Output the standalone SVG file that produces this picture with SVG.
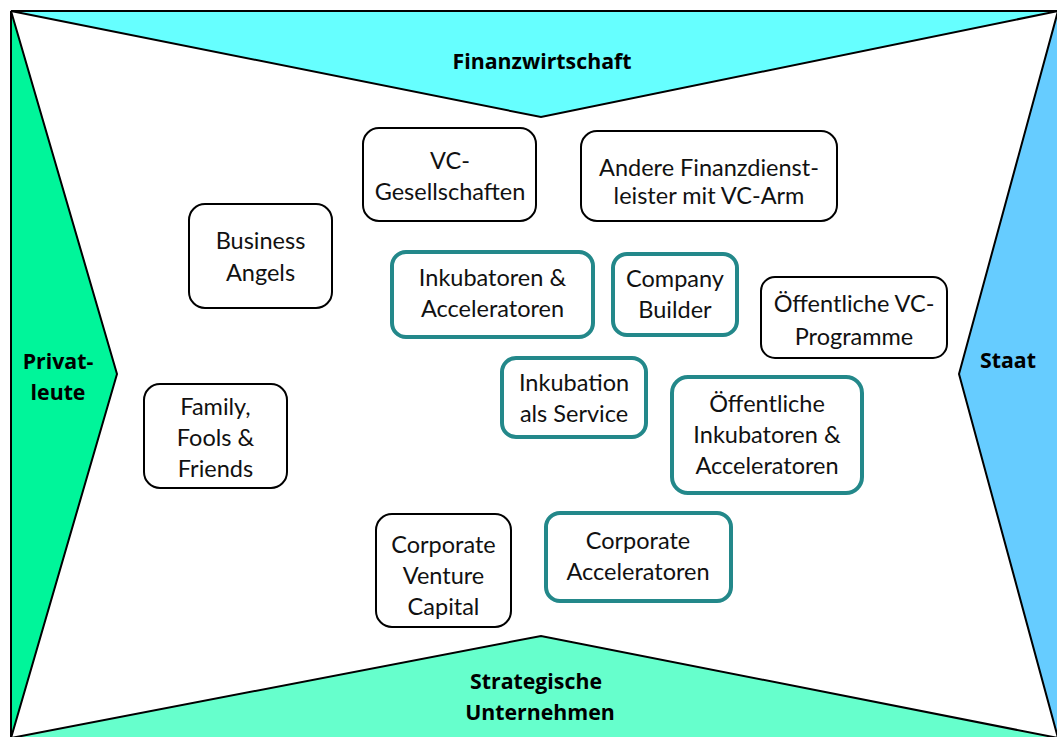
<svg xmlns="http://www.w3.org/2000/svg" width="1057" height="737" viewBox="0 0 1057 737">
<style>
.bg{fill:#ffffff}
.band{stroke:#000;stroke-width:2;stroke-linejoin:miter}
.box{fill:#fff;stroke:#000;stroke-width:2}
.tbox{fill:#fff;stroke:#23888a;stroke-width:4}
.t{font-family:Lato,"Open Sans",sans-serif;font-size:23.5px;fill:#111;text-anchor:middle}
.b{font-family:"Open Sans","Liberation Sans",sans-serif;font-size:21.3px;font-weight:bold;fill:#000;text-anchor:middle}
</style>
<rect class="bg" x="0" y="0" width="1057" height="737"/>
<g id="bands">
<g id="finanzwirtschaft">
<polygon class="band" fill="#66ffff" points="11,11 1058,11 541,117"/>
<text class="b" x="542" y="69">Finanzwirtschaft</text>
</g>
<g id="privatleute">
<polygon class="band" fill="#00f59a" points="11,11 117,374 11,738"/>
<text class="b" x="58" y="369">Privat-</text>
<text class="b" x="58" y="400">leute</text>
</g>
<g id="staat">
<polygon class="band" fill="#66ccff" points="1058,11 959,374 1058,738"/>
<text class="b" x="1008" y="368">Staat</text>
</g>
<g id="strategische">
<polygon class="band" fill="#66ffcc" points="11,738 541,636 1058,738"/>
<text class="b" x="536" y="689">Strategische</text>
<text class="b" x="540" y="720">Unternehmen</text>
</g>
</g>
<g id="connectors"></g>
<g id="vc-gesellschaften">
<rect class="box" x="363" y="128" width="173" height="93" rx="16"/>
<text class="t" x="450" y="169">VC-</text>
<text class="t" x="450" y="200">Gesellschaften</text>
</g>
<g id="andere-finanzdienstleister">
<rect class="box" x="581" y="131" width="256" height="90" rx="16"/>
<text class="t" x="709" y="176">Andere Finanzdienst-</text>
<text class="t" x="709" y="204">leister mit VC-Arm</text>
</g>
<g id="business-angels">
<rect class="box" x="189" y="204" width="143" height="104" rx="16"/>
<text class="t" x="260.5" y="249">Business</text>
<text class="t" x="260.5" y="281">Angels</text>
</g>
<g id="inkubatoren-acceleratoren">
<rect class="tbox" x="392" y="252" width="201" height="85" rx="14"/>
<text class="t" x="492.5" y="286">Inkubatoren &amp;</text>
<text class="t" x="492.5" y="317">Acceleratoren</text>
</g>
<g id="company-builder">
<rect class="tbox" x="613" y="254" width="124" height="81" rx="14"/>
<text class="t" x="675" y="287">Company</text>
<text class="t" x="675" y="318">Builder</text>
</g>
<g id="oeffentliche-vc-programme">
<rect class="box" x="761" y="277" width="186" height="81" rx="14"/>
<text class="t" x="854" y="312">Öffentliche VC-</text>
<text class="t" x="854" y="345">Programme</text>
</g>
<g id="inkubation-als-service">
<rect class="tbox" x="502" y="358" width="144" height="79" rx="14"/>
<text class="t" x="574" y="391">Inkubation</text>
<text class="t" x="574" y="422">als Service</text>
</g>
<g id="oeffentliche-inkubatoren">
<rect class="tbox" x="672" y="377" width="190" height="116" rx="16"/>
<text class="t" x="767" y="412">Öffentliche</text>
<text class="t" x="767" y="443">Inkubatoren &amp;</text>
<text class="t" x="767" y="474">Acceleratoren</text>
</g>
<g id="family-fools-friends">
<rect class="box" x="144" y="384" width="143" height="104" rx="16"/>
<text class="t" x="215.5" y="415">Family,</text>
<text class="t" x="215.5" y="446">Fools &amp;</text>
<text class="t" x="215.5" y="477">Friends</text>
</g>
<g id="corporate-venture-capital">
<rect class="box" x="376" y="514" width="135" height="113" rx="16"/>
<text class="t" x="443.5" y="553">Corporate</text>
<text class="t" x="443.5" y="584">Venture</text>
<text class="t" x="443.5" y="615">Capital</text>
</g>
<g id="corporate-acceleratoren">
<rect class="tbox" x="546" y="513" width="185" height="88" rx="14"/>
<text class="t" x="638" y="549">Corporate</text>
<text class="t" x="638" y="580">Acceleratoren</text>
</g>
</svg>
